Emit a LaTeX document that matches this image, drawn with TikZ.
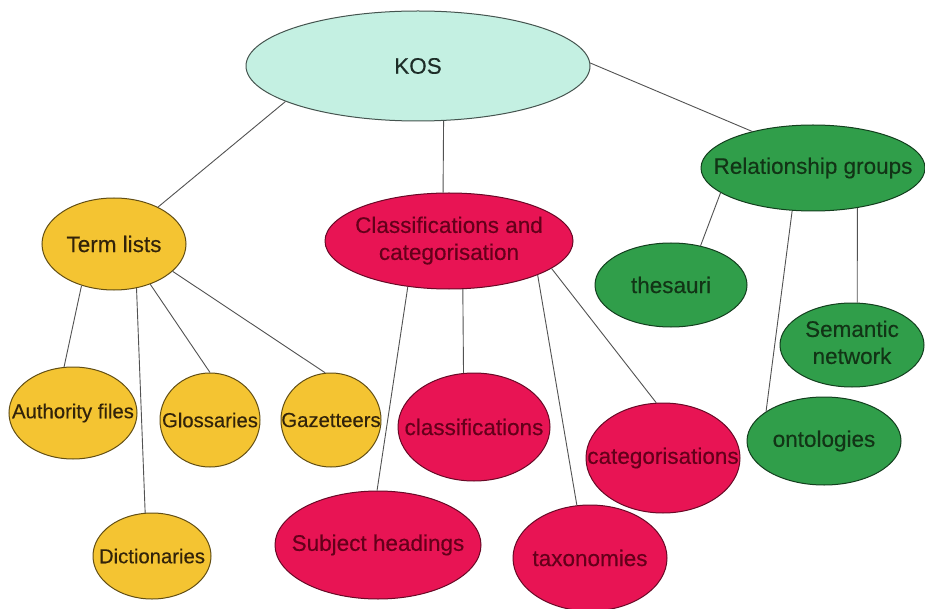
\documentclass[tikz,border=0pt]{standalone}
\usepackage{fontspec}
\setmainfont{Liberation Sans}[FakeBold=0.3]
\usetikzlibrary{shapes.geometric}

\definecolor{kosfill}{RGB}{196,240,226}
\definecolor{yelfill}{RGB}{244,196,50}
\definecolor{redfill}{RGB}{232,20,84}
\definecolor{grnfill}{RGB}{48,158,74}
\definecolor{kostext}{RGB}{30,45,40}
\definecolor{yeltext}{RGB}{50,35,10}
\definecolor{redtext}{RGB}{100,0,26}
\definecolor{grntext}{RGB}{18,52,22}

% zero-width text boxes so the ellipse size is set by its minimum size only
\newcommand{\ctr}[1]{\makebox[0pt][c]{#1}}
\newcommand{\twolines}[2]{\makebox[0pt][c]{\begin{tabular}{@{}c@{}}#1\\#2\end{tabular}}}

\begin{document}
\begin{tikzpicture}[x=1pt, y=-1pt,
  bubble/.style={ellipse, inner sep=0pt, line width=1pt},
  big/.style={font=\fontsize{22.5}{27}\selectfont},
  small/.style={font=\fontsize{20.3}{25}\selectfont},
  kosnode/.style={bubble, big, fill=kosfill, draw=kosfill!35!black, text=kostext},
  yelnode/.style={bubble, fill=yelfill, draw=yelfill!40!black, text=yeltext},
  rednode/.style={bubble, big, fill=redfill, draw=redfill!45!black, text=redtext},
  grnnode/.style={bubble, big, fill=grnfill, draw=grnfill!40!black, text=grntext},
  link/.style={draw=black!68, line width=0.9pt}
]
\useasboundingbox[fill=white] (0,0) rectangle (925,609);

% root
\node[kosnode, minimum width=344pt, minimum height=110pt] (kos) at (418,66) {\ctr{KOS}};

% second level
\node[yelnode, big, minimum width=144pt, minimum height=92pt] (term) at (114,244) {\ctr{Term lists}};
\node[rednode, minimum width=248pt, minimum height=96pt] (cls) at (449,241) {\twolines{Classifications and}{categorisation}};
\node[grnnode, minimum width=224pt, minimum height=86pt] (rel) at (813,168) {\ctr{Relationship groups}};

% term lists
\node[yelnode, small, minimum width=128pt, minimum height=92pt] (auth) at (73,413) {\ctr{Authority files}};
\node[yelnode, small, minimum width=100pt, minimum height=94pt] (glos) at (210,420) {\ctr{Glossaries}};
\node[yelnode, small, minimum width=100pt, minimum height=94pt] (gaz) at (331,420) {\ctr{Gazetteers}};
\node[yelnode, small, minimum width=118pt, minimum height=86pt] (dict) at (152,556) {\ctr{Dictionaries}};

% classifications and categorisation
\node[rednode, minimum width=206pt, minimum height=108pt] (subj) at (378,545) {\ctr{Subject headings}};
\node[rednode, minimum width=152pt, minimum height=108pt] (clsf) at (474,427) {\ctr{classifications}};
\node[rednode, minimum width=154pt, minimum height=110pt] (catg) at (663,458) {\ctr{categorisations}};
\node[rednode, minimum width=154pt, minimum height=106pt] (tax) at (590,558) {\ctr{taxonomies}};

% relationship groups
\node[grnnode, minimum width=152pt, minimum height=84pt] (thes) at (671,285) {\ctr{thesauri}};
\node[grnnode, minimum width=144pt, minimum height=84pt] (sem) at (852,345) {\twolines{Semantic}{network}};
\node[grnnode, minimum width=154pt, minimum height=88pt] (onto) at (824,441) {\ctr{ontologies}};

% connectors
\draw[link] (kos.195) -- (term.40);
\draw[link] (kos.-65) -- (cls.97);
\draw[link] (kos.1) -- (rel.149);

\draw[link] (term.232) -- (auth.101);
\draw[link] (term.297) -- (dict.99);
\draw[link] (term.-48) -- (glos.90);
\draw[link] (term.-25) -- (gaz.97);

\draw[link] (cls.228) -- (subj.91);
\draw[link] (cls.-74) -- (clsf.101);
\draw[link] (cls.-21) -- (tax.104);
\draw[link] (cls.-15) -- (catg.97);

\draw[link] (rel.195) -- (thes.53);
\draw[link] (rel.244) -- (onto.153);
\draw[link] (rel.-42) -- (sem.83);
\end{tikzpicture}
\end{document}
